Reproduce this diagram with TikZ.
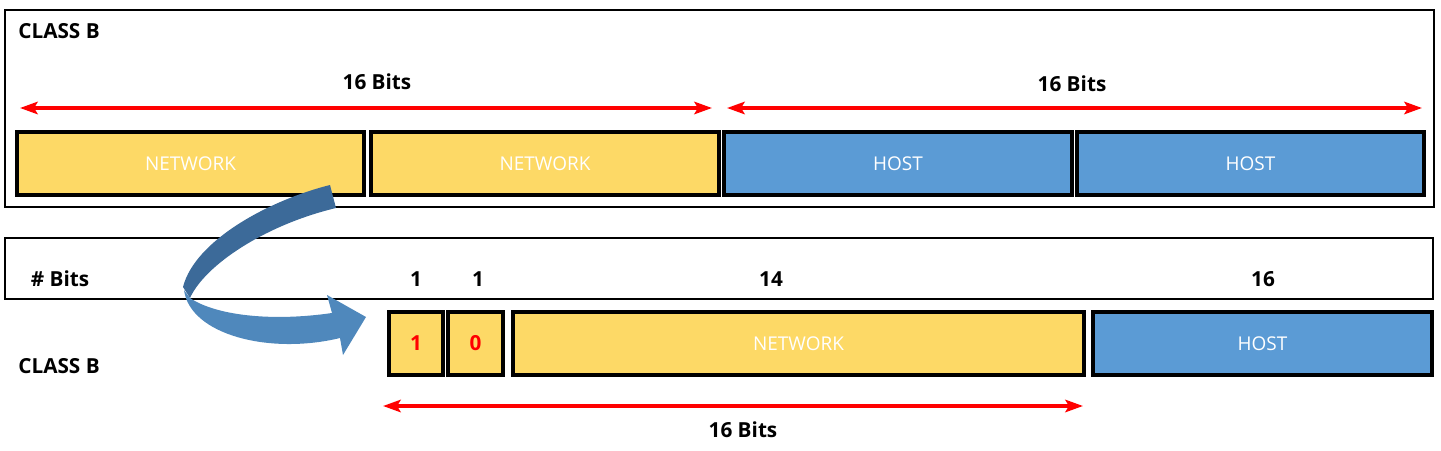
\documentclass[tikz,border=0pt]{standalone}
\usepackage{fontspec}
\setmainfont{Open Sans}
\usetikzlibrary{positioning,arrows.meta}
\definecolor{netyellow}{HTML}{FDD966}
\definecolor{hostblue}{HTML}{5B9BD5}
\definecolor{arrowdark}{HTML}{3C6A99}
\definecolor{arrowlight}{HTML}{4F88BC}
\newcommand{\pxu}{0.02cm}
\tikzset{>={Stealth[length=10pt,width=7pt,inset=2pt]}}
\tikzset{
  frame/.style={draw,line width=1.6pt},
  field/.style={draw,line width=1.8pt,minimum height=63*\pxu,inner sep=0pt,text=white,font=\fontsize{10.8}{12}\selectfont},
  netfield/.style={field,fill=netyellow},
  hostfield/.style={field,fill=hostblue},
  bitfield/.style={netfield,text=red,font=\fontsize{11.8}{13}\selectfont\bfseries},
  lbl/.style={font=\fontsize{11.8}{13}\selectfont\bfseries,inner sep=0pt},
  span/.style={<->,red,line width=2.3pt}
}
\begin{document}
\begin{tikzpicture}[x=\pxu,y=-\pxu]
\useasboundingbox (0,0) rectangle (1441,450);
\draw[frame] (5,10) rectangle (1434,207);
\node[lbl,anchor=west] (classa) at (18,31) {CLASS B};
\node[netfield,minimum width=347*\pxu] (net1) at (190.5,163.5) {NETWORK};
\node[netfield,minimum width=348*\pxu] (net2) at (545,163.5) {NETWORK};
\node[hostfield,minimum width=348*\pxu] (host1) at (898,163.5) {HOST};
\node[hostfield,minimum width=347*\pxu] (host2) at (1250.5,163.5) {HOST};
\coordinate (s1) at (20,108);
\coordinate (e1) at (712,108);
\coordinate (s2) at (727,108);
\coordinate (e2) at (1422,108);
\draw[span] (s1) -- (e1);
\draw[span] (s2) -- (e2);
\node[lbl] (bitsa) at (377,82) {16 Bits};
\node[lbl] (bitsb) at (1072,84) {16 Bits};
\draw[frame] (5,238) rectangle (1433,299);
\node[lbl] (nbits) at (60,279) {\# Bits};
\node[lbl] (n1) at (416,279) {1};
\node[lbl] (n2) at (478,279) {1};
\node[lbl] (n3) at (771,279) {14};
\node[lbl] (n4) at (1263,279) {16};
\node[lbl,anchor=west] (classb) at (18,366) {CLASS B};
\node[bitfield,minimum width=54*\pxu] (bone) at (416,343.5) {1};
\node[bitfield,minimum width=55*\pxu] (bzero) at (475.5,343.5) {0};
\node[netfield,minimum width=571*\pxu] (net3) at (798.5,343.5) {NETWORK};
\node[hostfield,minimum width=339*\pxu] (host3) at (1262.5,343.5) {HOST};
\coordinate (s3) at (383,406);
\coordinate (e3) at (1083,406);
\draw[span] (s3) -- (e3);
\node[lbl] (bitsc) at (743,430) {16 Bits};
\fill[arrowdark] (330,185) .. controls (270,200) and (195,240) .. (183,287)
  -- (190,298) .. controls (205,265) and (265,225) .. (336,208) -- cycle;
\fill[arrowlight] (184,290) .. controls (190,335) and (270,355) .. (340,338)
  -- (343,355) -- (366,317) -- (327,295) -- (332,313)
  .. controls (270,322) and (215,315) .. (190,298) -- cycle;
\end{tikzpicture}
\end{document}
